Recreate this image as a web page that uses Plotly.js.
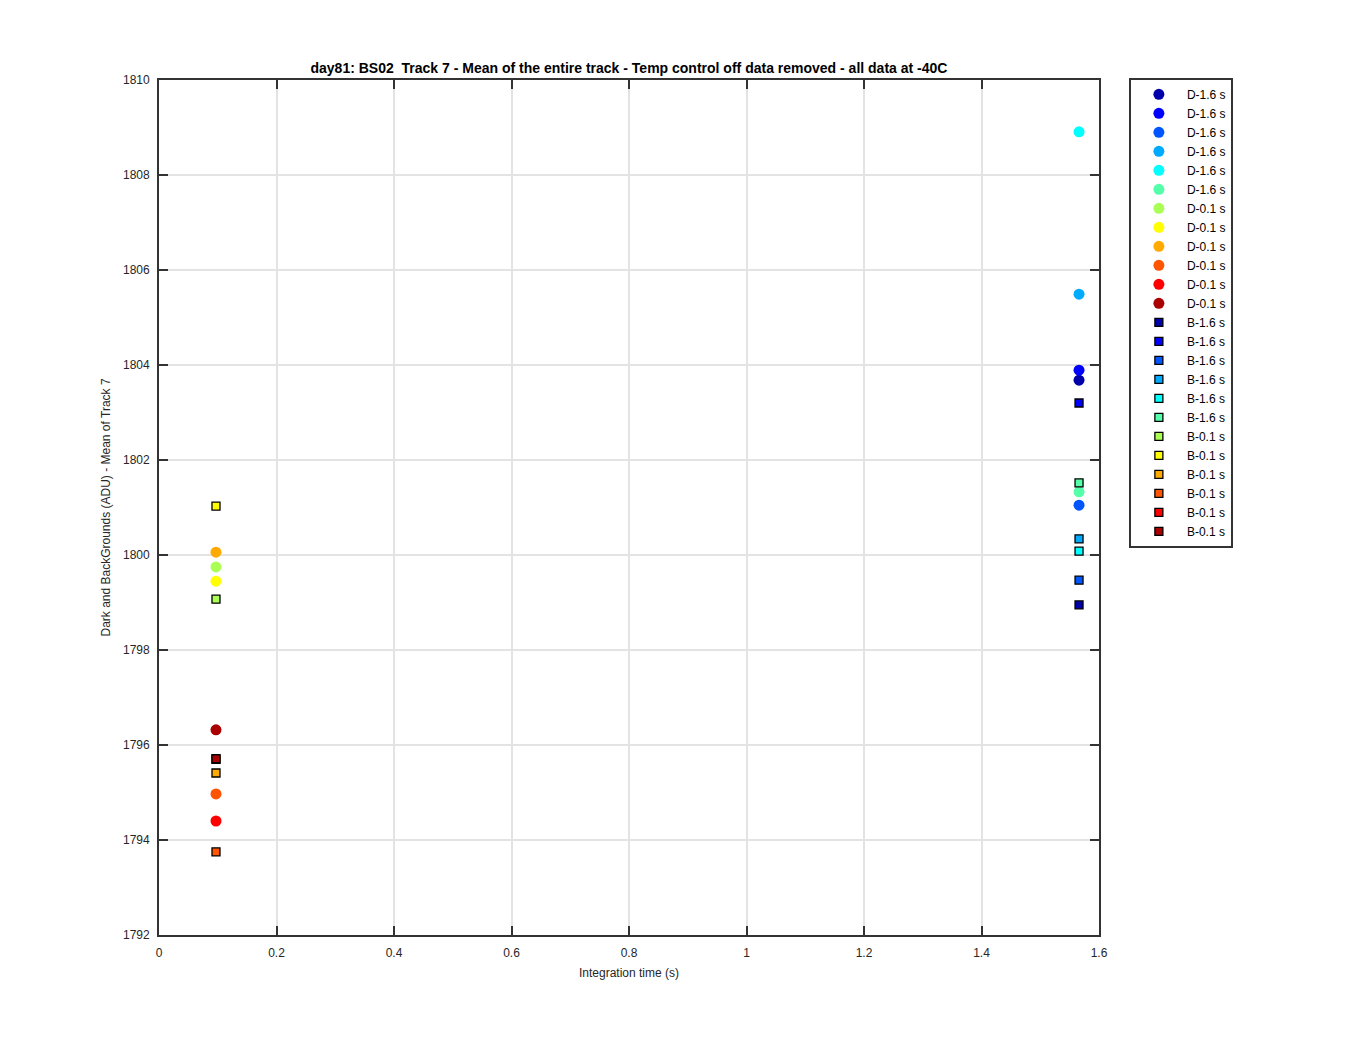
<!DOCTYPE html>
<html>
<head>
<meta charset="utf-8">
<script src="https://cdn.plot.ly/plotly-3.0.1.min.js"></script>
<style>html,body{margin:0;padding:0;background:#fff;}</style>
</head>
<body>
<div id="chart" style="width:1350px;height:1050px;"></div>
<script>
// Series names
const darkNames = ["D-1.6 s","D-1.6 s","D-1.6 s","D-1.6 s","D-1.6 s","D-1.6 s","D-0.1 s","D-0.1 s","D-0.1 s","D-0.1 s","D-0.1 s","D-0.1 s"];
const bgNames = ["B-1.6 s","B-1.6 s","B-1.6 s","B-1.6 s","B-1.6 s","B-1.6 s","B-0.1 s","B-0.1 s","B-0.1 s","B-0.1 s","B-0.1 s","B-0.1 s"];
// Integration times (x)
const darkX = [1.566,1.566,1.566,1.566,1.566,1.566,0.097,0.097,0.097,0.097,0.097,0.097];
const bgX   = [1.566,1.566,1.566,1.566,1.566,1.566,0.097,0.097,0.097,0.097,0.097,0.097];
// Means of track 7 (ADU)
const darkY = [1803.68,1803.89,1801.05,1805.49,1808.91,1801.33,1799.75,1799.45,1800.06,1794.97,1794.40,1796.32];
const bgY   = [1798.95,1803.20,1799.47,1800.34,1800.08,1801.52,1799.07,1801.03,1795.41,1793.75,1795.70,1795.71];
// jet(12) colours
const colors = ["#0000AA","#0000FF","#0055FF","#00AAFF","#00FFFF","#55FFAA","#AAFF55","#FFFF00","#FFAA00","#FF5500","#FF0000","#AA0000"];

const traces = [];
for (let i = 0; i < darkY.length; i++) {
  traces.push({
    type: "scatter", mode: "markers", name: darkNames[i],
    x: [darkX[i]], y: [darkY[i]],
    marker: {symbol: "circle", size: 11, color: colors[i], line: {width: 0}}
  });
}
for (let i = 0; i < bgY.length; i++) {
  traces.push({
    type: "scatter", mode: "markers", name: bgNames[i],
    x: [bgX[i]], y: [bgY[i]],
    marker: {symbol: "square", size: 8, color: colors[i], line: {width: 1.3, color: "#000"}}
  });
}

const axisCommon = {
  showline: true, linecolor: "#333333", linewidth: 1.8, mirror: "ticks",
  ticks: "inside", ticklen: 9, tickwidth: 1.6, tickcolor: "#333333",
  showgrid: true, gridcolor: "#e3e3e3", gridwidth: 1.5, zeroline: false,
  tickfont: {family: "Liberation Sans, Arial, sans-serif", size: 12, color: "#262626"}
};

const layout = {
  width: 1350, height: 1050,
  margin: {l: 159, r: 251, t: 80, b: 115},
  paper_bgcolor: "#fff", plot_bgcolor: "#fff",
  font: {family: "Liberation Sans, Arial, sans-serif", color: "#262626"},
  title: {
    text: "<b>day81: BS02  Track 7 - Mean of the entire track - Temp control off data removed - all data at -40C</b>",
    font: {size: 14, color: "#000"}, x: 0.4659, xanchor: "center", y: 0.935, yanchor: "middle"
  },
  xaxis: Object.assign({}, axisCommon, {
    range: [0, 1.6], dtick: 0.2, ticklabelstandoff: 6,
    title: {text: "Integration time (s)", font: {size: 12, color: "#262626"}, standoff: 9}
  }),
  yaxis: Object.assign({}, axisCommon, {
    range: [1792, 1810], dtick: 2, ticklabelstandoff: 5,
    title: {text: "Dark and BackGrounds (ADU) - Mean of Track 7", font: {size: 12, color: "#262626"}, standoff: 10}
  }),
  showlegend: true,
  legend: {
    x: 1.032, xanchor: "left", y: 1.0023, yanchor: "top",
    bordercolor: "#333333", borderwidth: 1.8, bgcolor: "#fff",
    font: {family: "Liberation Sans, Arial, sans-serif", size: 12, color: "#000"},
    tracegroupgap: 0, itemwidth: 46
  }
};

Plotly.newPlot("chart", traces, layout, {displayModeBar: false});
</script>
</body>
</html>
